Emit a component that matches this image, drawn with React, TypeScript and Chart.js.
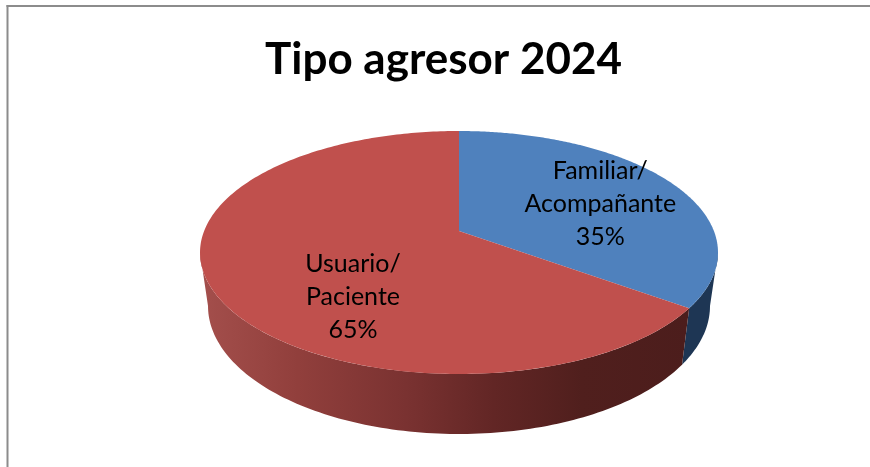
import React, { useEffect, useRef } from "react";
import { Chart, registerables } from "chart.js";

Chart.register(...registerables);

const categories = ["Familiar/ Acompañante", "Usuario/ Paciente"];
const labelLines = [["Familiar/", "Acompañante"], ["Usuario/", "Paciente"]];
const values = [35, 65];
const topColors = ["#4f81bd", "#c0504d"];
const titleText = "Tipo agresor 2024";

// Perspective of the pie disc (a projective map of the unit circle)
const CX = 459, APEX_Y = 231, PA = 76.8, PC = -0.177, PD = 254.9;
const TOP_CY = 252.5, TOP_RX = 259, TOP_RY = 121.5;
const BOT_CY = 306, BOT_RX = 251, BOT_RY = 128;

function project(theta: number, r: number) {
  const u = r * Math.sin(theta);
  const v = -r * Math.cos(theta);
  const w = 1 + PC * v;
  return { x: CX + (PD * u) / w, y: (APEX_Y + PA * v) / w };
}
function lower(p: { x: number; y: number }) {
  return {
    x: CX + ((p.x - CX) / TOP_RX) * BOT_RX,
    y: BOT_CY + ((p.y - TOP_CY) / TOP_RY) * BOT_RY,
  };
}

const pie3d = {
  id: "pie3d",
  beforeDraw(chart: any) {
    const { ctx, width, height } = chart;
    ctx.save();
    ctx.fillStyle = "#ffffff";
    ctx.fillRect(0, 0, width, height);
    ctx.fillStyle = "#8c8c8c";
    ctx.fillRect(6.5, 5, width, 2);
    ctx.fillRect(6.5, 5, 2, height);
    ctx.restore();
  },
  beforeDatasetDraw(chart: any, args: any) {
    const { ctx } = chart;
    const arcs = args.meta.data;
    const lo = Math.PI / 2 + Math.asin(-PC);
    const hi = 2 * Math.PI - lo;
    ctx.save();
    // outer wall
    arcs.forEach((arc: any, i: number) => {
      const a = Math.max(arc.startAngle + Math.PI / 2, lo);
      const b = Math.min(arc.endAngle + Math.PI / 2, hi);
      if (b <= a) return;
      const pts: any[] = [];
      const n = 120;
      for (let k = 0; k <= n; k++) pts.push(project(a + ((b - a) * k) / n, 1));
      ctx.beginPath();
      pts.forEach((p, k) => (k ? ctx.lineTo(p.x, p.y) : ctx.moveTo(p.x, p.y)));
      for (let k = n; k >= 0; k--) {
        const q = lower(pts[k]);
        ctx.lineTo(q.x, q.y);
      }
      ctx.closePath();
      if (i === 0) {
        ctx.fillStyle = "#1e3654";
      } else {
        const g = ctx.createLinearGradient(200, 0, 690, 0);
        g.addColorStop(0, "#a44f4c");
        g.addColorStop(0.2, "#913f3c");
        g.addColorStop(0.42, "#7a3231");
        g.addColorStop(0.6, "#622625");
        g.addColorStop(0.78, "#501f1d");
        g.addColorStop(1, "#4c1d1c");
        ctx.fillStyle = g;
      }
      ctx.fill();
    });
    // top face
    arcs.forEach((arc: any, i: number) => {
      const a = arc.startAngle + Math.PI / 2;
      const b = arc.endAngle + Math.PI / 2;
      const n = 240;
      ctx.beginPath();
      const c = project(0, 0);
      ctx.moveTo(c.x, c.y);
      for (let k = 0; k <= n; k++) {
        const p = project(a + ((b - a) * k) / n, 1);
        ctx.lineTo(p.x, p.y);
      }
      ctx.closePath();
      ctx.fillStyle = topColors[i];
      ctx.fill();
    });
    // labels
    const fractions = [0.655, 0.45];
    const shifts = [6.5, 40.5];
    ctx.fillStyle = "#000000";
    ctx.font = "25px Lato";
    ctx.textAlign = "center";
    ctx.textBaseline = "middle";
    arcs.forEach((arc: any, i: number) => {
      const mid = (arc.startAngle + arc.endAngle) / 2 + Math.PI / 2;
      const p = project(mid, fractions[i]);
      const total = values.reduce((s, v) => s + v, 0);
      const lines = [...labelLines[i], Math.round((values[i] / total) * 100) + "%"];
      lines.forEach((t, k) => ctx.fillText(t, p.x, p.y + shifts[i] + (k - 1) * 33));
    });
    ctx.restore();
    return false;
  },
};

export default function App() {
  const ref = useRef<HTMLCanvasElement>(null);
  useEffect(() => {
    const chart = new Chart(ref.current as HTMLCanvasElement, {
      type: "pie",
      data: {
        labels: categories,
        datasets: [{ data: values, backgroundColor: topColors, borderWidth: 0 }],
      },
      options: {
        responsive: false,
        animation: false,
        layout: { padding: { left: 17 } },
        plugins: {
          legend: { display: false },
          tooltip: { enabled: false },
          title: {
            display: true,
            text: titleText,
            color: "#000000",
            font: { family: "Lato", size: 44, weight: "bold" },
            padding: { top: 33, bottom: 10 },
          },
        },
      },
      plugins: [pie3d],
    } as any);
    return () => chart.destroy();
  }, []);
  return (
    <canvas
      ref={ref}
      width={870}
      height={467}
      style={{ position: "fixed", left: 0, top: 0, display: "block" }}
    />
  );
}
